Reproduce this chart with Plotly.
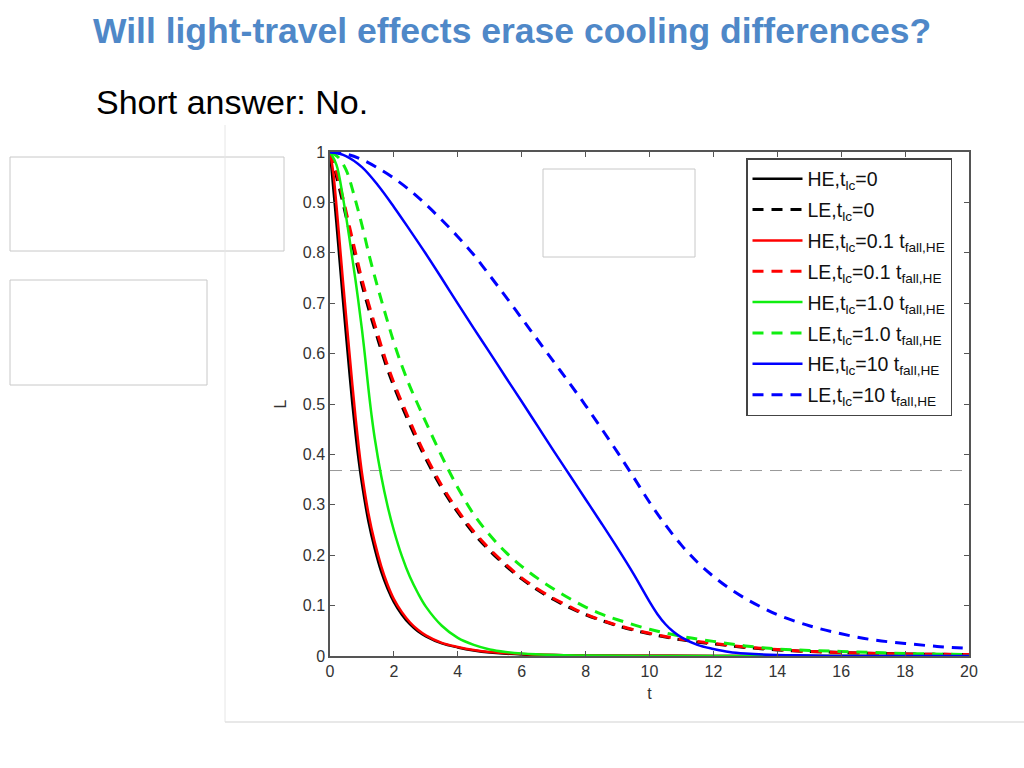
import plotly.graph_objects as go

# ---------------- data ----------------
t_he_black = [0, 0.1, 0.2, 0.3, 0.4, 0.5, 0.6, 0.7, 0.8, 0.9, 1.0, 1.2, 1.4, 1.6, 1.8, 2.0,
              2.25, 2.5, 2.75, 3.0, 3.5, 4.0, 4.5, 5, 6, 7, 8, 10, 12, 20]
L_he_black = [1, 0.93, 0.86, 0.785, 0.71, 0.638, 0.568, 0.5, 0.44, 0.387, 0.342, 0.268,
              0.213, 0.168, 0.134, 0.107, 0.082, 0.063, 0.049, 0.039, 0.025, 0.017, 0.011,
              0.007, 0.003, 0.002, 0.001, 0.0005, 0, 0]

t_he_red = t_he_black
L_he_red = [1, 0.96, 0.895, 0.822, 0.748, 0.677, 0.607, 0.538, 0.473, 0.414, 0.363, 0.284,
            0.226, 0.179, 0.142, 0.113, 0.087, 0.067, 0.052, 0.041, 0.026, 0.018, 0.012,
            0.008, 0.004, 0.002, 0.001, 0.0005, 0, 0]

t_le_black = [0, 0.2, 0.4, 0.6, 0.8, 1.0, 1.25, 1.5, 1.75, 2.0, 2.25, 2.5, 2.75, 3.0, 3.5,
              4.0, 4.5, 5.0, 5.5, 6.0, 6.5, 7.0, 7.5, 8.0, 9, 10, 11, 12, 13, 14, 15, 16,
              18, 20]
L_le_black = [1, 0.952, 0.9, 0.845, 0.79, 0.737, 0.68, 0.628, 0.578, 0.535, 0.496, 0.459,
              0.424, 0.391, 0.333, 0.285, 0.243, 0.209, 0.179, 0.153, 0.131, 0.112, 0.096,
              0.082, 0.06, 0.044, 0.032, 0.024, 0.017, 0.012, 0.009, 0.007, 0.004, 0.003]

t_le_red = t_le_black
L_le_red = [1, 0.96, 0.91, 0.855, 0.8, 0.747, 0.69, 0.637, 0.586, 0.542, 0.503, 0.466,
            0.43, 0.397, 0.338, 0.289, 0.247, 0.212, 0.182, 0.155, 0.133, 0.114, 0.098,
            0.083, 0.061, 0.045, 0.033, 0.025, 0.018, 0.013, 0.009, 0.007, 0.004, 0.003]

t_he_green = [0, 0.2, 0.4, 0.6, 0.8, 1.0, 1.1, 1.2, 1.3, 1.4, 1.6, 1.8, 2.0, 2.25, 2.5,
              2.75, 3.0, 3.5, 4.0, 4.5, 5.0, 5.5, 6, 7, 8, 10, 20]
L_he_green = [1, 0.975, 0.912, 0.832, 0.745, 0.648, 0.592, 0.532, 0.478, 0.432, 0.358,
              0.298, 0.249, 0.198, 0.157, 0.125, 0.098, 0.06, 0.036, 0.022, 0.013, 0.008,
              0.005, 0.002, 0.001, 0, 0]

t_le_green = [0, 0.25, 0.5, 0.75, 1.0, 1.25, 1.5, 1.75, 2.0, 2.25, 2.5, 2.75, 3.0, 3.5,
              4.0, 4.5, 5.0, 5.5, 6, 6.5, 7, 7.5, 8, 8.5, 9, 10, 11, 12, 13, 14, 15, 16,
              17, 18, 20]
L_le_green = [1, 0.99, 0.965, 0.915, 0.855, 0.789, 0.73, 0.675, 0.622, 0.576, 0.535, 0.499,
              0.464, 0.396, 0.334, 0.281, 0.24, 0.206, 0.178, 0.154, 0.133, 0.114, 0.097,
              0.083, 0.072, 0.053, 0.039, 0.029, 0.02, 0.014, 0.011, 0.009, 0.007, 0.005,
              0.003]

t_he_blue = [0, 0.5, 1, 1.5, 2, 2.5, 3, 3.5, 4, 4.5, 5, 5.5, 6, 6.5, 7, 7.5, 8, 8.5, 9,
             9.5, 10, 10.25, 10.5, 10.75, 11, 11.5, 12, 12.5, 13, 14, 15, 16, 20]
L_he_blue = [1, 0.992, 0.97, 0.934, 0.891, 0.845, 0.798, 0.749, 0.699, 0.65, 0.602, 0.553,
             0.505, 0.456, 0.407, 0.359, 0.311, 0.263, 0.214, 0.163, 0.108, 0.083, 0.063,
             0.048, 0.037, 0.022, 0.014, 0.008, 0.005, 0.002, 0.001, 0, 0]

t_le_blue = [0, 0.5, 1, 1.5, 2, 2.5, 3, 3.5, 4, 4.5, 5, 5.5, 6, 6.5, 7, 7.5, 8, 8.5, 9,
             9.5, 10, 10.5, 11, 11.5, 12, 12.5, 13, 13.5, 14, 15, 16, 17, 18, 19, 20]
L_le_blue = [1, 0.996, 0.985, 0.968, 0.948, 0.924, 0.896, 0.865, 0.832, 0.796, 0.755,
             0.713, 0.67, 0.627, 0.584, 0.541, 0.497, 0.451, 0.404, 0.355, 0.305, 0.26,
             0.22, 0.186, 0.158, 0.134, 0.114, 0.097, 0.082, 0.06, 0.044, 0.032, 0.025,
             0.019, 0.015]

threshold = 0.368  # 1/e reference level

series_names = [
    "HE,t<sub>lc</sub>=0",
    "LE,t<sub>lc</sub>=0",
    "HE,t<sub>lc</sub>=0.1 t<sub>fall,HE</sub>",
    "LE,t<sub>lc</sub>=0.1 t<sub>fall,HE</sub>",
    "HE,t<sub>lc</sub>=1.0 t<sub>fall,HE</sub>",
    "LE,t<sub>lc</sub>=1.0 t<sub>fall,HE</sub>",
    "HE,t<sub>lc</sub>=10 t<sub>fall,HE</sub>",
    "LE,t<sub>lc</sub>=10 t<sub>fall,HE</sub>",
]
x_ticks = list(range(0, 21, 2))
y_ticks = [0, 0.1, 0.2, 0.3, 0.4, 0.5, 0.6, 0.7, 0.8, 0.9, 1]
y_tick_labels = ["0", "0.1", "0.2", "0.3", "0.4", "0.5", "0.6", "0.7", "0.8", "0.9", "1"]

# ---------------- figure ----------------
DASH = "11px,8px"
series = [
    (t_he_black, L_he_black, "#000000", "solid"),
    (t_le_black, L_le_black, "#000000", DASH),
    (t_he_red, L_he_red, "#ff0000", "solid"),
    (t_le_red, L_le_red, "#ff0000", DASH),
    (t_he_green, L_he_green, "#10ee10", "solid"),
    (t_le_green, L_le_green, "#10ee10", DASH),
    (t_he_blue, L_he_blue, "#0000ff", "solid"),
    (t_le_blue, L_le_blue, "#0000ff", DASH),
]

fig = go.Figure()
for i, (name, (tx, ly, col, dash)) in enumerate(zip(series_names, series)):
    fig.add_trace(go.Scatter(
        x=tx, y=ly, mode="lines", name=name, legendgroup="g%d" % i,
        line=dict(color=col, width=2.5 if dash == "solid" else 3, dash=dash,
                  shape="spline", smoothing=1.0),
    ))

fig.add_hline(y=threshold, line=dict(color="#999999", width=1, dash="12px,8px"),
              layer="below")

W, H = 1024, 768
L_PX, R_PX, T_PX, B_PX = 330, 969, 152, 656


def px(x):
    return (x - L_PX) / (R_PX - L_PX)


def py(y):
    return (B_PX - y) / (B_PX - T_PX)


shapes = []
for (x0, y0, x1, y1) in [(10, 157, 284, 251), (10, 280, 207, 385), (543, 169, 695, 257)]:
    shapes.append(dict(type="rect", xref="paper", yref="paper",
                       x0=px(x0), x1=px(x1), y0=py(y1), y1=py(y0),
                       line=dict(color="#c8c8c8", width=1), fillcolor="white", layer="above"))
shapes.append(dict(type="line", xref="paper", yref="paper", x0=px(225), x1=px(225),
                   y0=py(722), y1=py(125), line=dict(color="#e6e6e6", width=1)))
shapes.append(dict(type="line", xref="paper", yref="paper", x0=px(225), x1=px(1024),
                   y0=py(722), y1=py(722), line=dict(color="#e0e0e0", width=1.5)))
for s in shapes:
    fig.add_shape(**s)

fig.add_annotation(text="<b>Will light-travel effects erase cooling differences?</b>",
                   xref="paper", yref="paper", x=px(511.5), y=py(31),
                   xanchor="center", yanchor="middle", showarrow=False,
                   font=dict(family="Liberation Sans, Arial, sans-serif", size=35.5,
                             color="#4f88c8"))
fig.add_annotation(text="Short answer: No.",
                   xref="paper", yref="paper", x=px(94), y=py(102),
                   xanchor="left", yanchor="middle", showarrow=False,
                   font=dict(family="Liberation Sans, Arial, sans-serif", size=34,
                             color="#000000"))

axis_font = dict(family="Liberation Sans, Arial, sans-serif", size=16, color="#333333")
fig.update_xaxes(range=[0, 20], tickvals=x_ticks, ticks="inside", ticklen=5,
                 tickcolor="#555555", showgrid=False, zeroline=False, showline=True,
                 linecolor="#555555", linewidth=1.5, mirror="ticks", tickfont=axis_font,
                 title=dict(text="t", font=axis_font, standoff=9))
fig.update_yaxes(range=[0, 1], tickvals=y_ticks, ticktext=y_tick_labels, ticks="inside",
                 ticklen=5, tickcolor="#555555", showgrid=False, zeroline=False,
                 showline=True, linecolor="#555555", linewidth=1.5, mirror="ticks",
                 tickfont=axis_font, title=dict(text="L", font=axis_font, standoff=12))

fig.update_layout(
    width=W, height=H,
    margin=dict(l=L_PX, r=W - R_PX, t=T_PX, b=H - B_PX, autoexpand=False),
    paper_bgcolor="white", plot_bgcolor="white",
    showlegend=True,
    legend=dict(x=px(746), y=py(158), xanchor="left", yanchor="top",
                bgcolor="white", bordercolor="#444444", borderwidth=1.5,
                font=dict(family="Liberation Sans, Arial, sans-serif", size=19.5,
                          color="#111111"),
                itemwidth=50, tracegroupgap=2.5),
)

fig.write_html("out.html", config={"displayModeBar": False},
               post_script="document.body.style.margin='0px';")
